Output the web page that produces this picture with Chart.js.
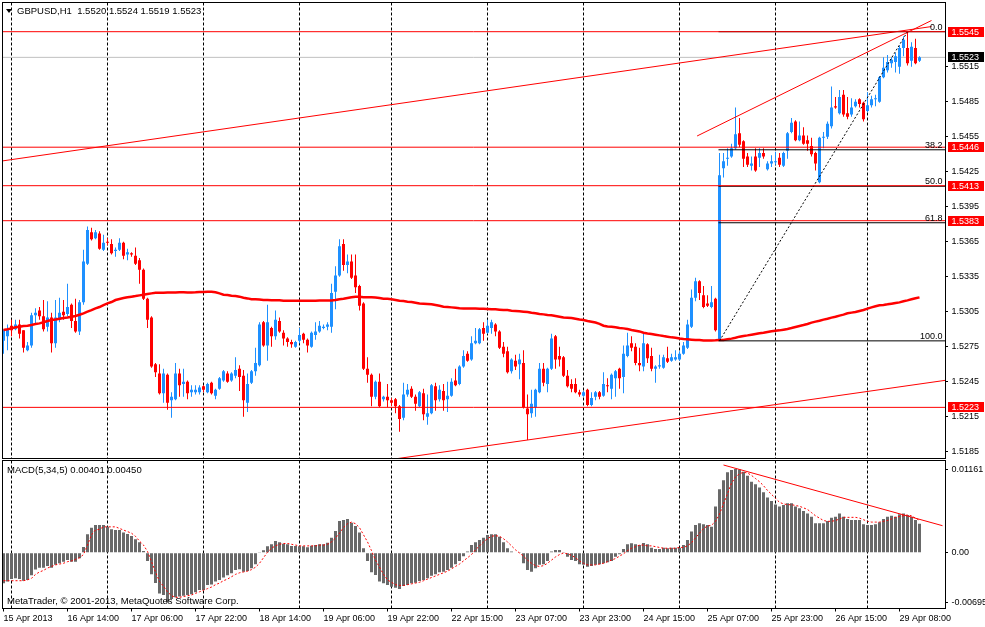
<!DOCTYPE html>
<html>
<head>
    <title>GBPUSD,H1 with MACD</title>
    <script src="https://cdn.jsdelivr.net/npm/chart.js"></script>
    <style>
        body { margin: 0; padding: 0; background: #fff; }
        #wrap { position: relative; width: 985px; height: 627px; overflow: hidden; }
        #priceChart { position: absolute; left: 0; top: 0; }
        #macdChart { position: absolute; left: 0; top: 460px; }
    </style>
</head>
<body>
    <div id="wrap">
        <canvas id="priceChart" width="985" height="460"></canvas>
        <canvas id="macdChart" width="985" height="167"></canvas>
    </div>

    <script>
        const FONT = "'Liberation Sans', Arial, sans-serif";
        const BULL = '#1E90FF';
        const BEAR = '#FF0000';

        // bar 0 = 15 Apr 22:00, one bar per hour (Friday ends at 22:00)
        const timeLabels = ['15 Apr 2013', '16 Apr 14:00', '17 Apr 06:00', '17 Apr 22:00', '18 Apr 14:00',
            '19 Apr 06:00', '19 Apr 22:00', '22 Apr 15:00', '23 Apr 07:00', '23 Apr 23:00',
            '24 Apr 15:00', '25 Apr 07:00', '25 Apr 23:00', '26 Apr 15:00', '29 Apr 08:00'];
        const labelBars = [0, 16, 32, 48, 64, 80, 96, 112, 128, 144, 160, 176, 192, 208, 224];
        const daySeparators = [2, 26, 50, 74, 97, 121, 145, 169, 193, 216];
        const priceTicks = [1.5185, 1.5215, 1.5245, 1.5275, 1.5305, 1.5335, 1.5365, 1.5395, 1.5425, 1.5455, 1.5485, 1.5515];
        const macdTicks = [0.01161, 0, -0.00695];

        const opens = [
            1.5280,1.5284,1.5293,1.5290,1.5294,1.5289,1.5272,1.5276,1.5302,1.5306,
            1.5301,1.5292,1.5300,1.5278,1.5298,1.5305,1.5303,1.5311,1.5297,1.5288,
            1.5313,1.5346,1.5373,1.5368,1.5372,1.5358,1.5365,1.5363,1.5357,1.5358,
            1.5364,1.5354,1.5355,1.5353,1.5349,1.5341,1.5316,1.5300,1.5260,1.5252,
            1.5235,1.5251,1.5229,1.5230,1.5252,1.5243,1.5245,1.5236,1.5236,1.5236,
            1.5241,1.5236,1.5244,1.5233,1.5239,1.5246,1.5252,1.5246,1.5250,1.5256,
            1.5250,1.5227,1.5244,1.5254,1.5259,1.5296,1.5276,1.5291,1.5284,1.5297,
            1.5287,1.5282,1.5279,1.5275,1.5280,1.5286,1.5281,1.5275,1.5285,1.5288,
            1.5291,1.5292,1.5292,1.5322,1.5336,1.5363,1.5345,1.5348,1.5336,1.5327,
            1.5312,1.5256,1.5251,1.5232,1.5245,1.5230,1.5232,1.5229,1.5230,1.5224,
            1.5214,1.5234,1.5239,1.5232,1.5224,1.5235,1.5215,1.5218,1.5241,1.5230,
            1.5237,1.5230,1.5233,1.5246,1.5243,1.5258,1.5269,1.5264,1.5278,1.5278,
            1.5291,1.5287,1.5291,1.5294,1.5288,1.5275,1.5271,1.5254,1.5263,1.5260,
            1.5261,1.5222,1.5218,1.5223,1.5236,1.5256,1.5243,1.5256,1.5284,1.5267,
            1.5266,1.5250,1.5243,1.5243,1.5236,1.5233,1.5238,1.5225,1.5232,1.5236,
            1.5233,1.5242,1.5239,1.5248,1.5256,1.5249,1.5267,1.5278,1.5275,1.5261,
            1.5258,1.5277,1.5267,1.5256,1.5258,1.5257,1.5265,1.5263,1.5264,1.5264,
            1.5269,1.5274,1.5292,1.5317,1.5331,1.5319,1.5312,1.5309,1.5316,1.5281,
            1.5428,1.5436,1.5438,1.5445,1.5458,1.5451,1.5438,1.5430,1.5438,1.5437,
            1.5441,1.5427,1.5432,1.5433,1.5437,1.5430,1.5443,1.5459,1.5468,1.5452,
            1.5456,1.5452,1.5447,1.5441,1.5416,1.5454,1.5455,1.5464,1.5481,1.5475,
            1.5491,1.5475,1.5474,1.5481,1.5487,1.5484,1.5477,1.5482,1.5487,1.5485,
            1.5506,1.5512,1.5518,1.5519,1.5515,1.5531,1.5531,1.5520,1.5531,1.5520
        ];
        const highs = [
            1.5290,1.5294,1.5298,1.5298,1.5298,1.5289,1.5279,1.5304,1.5308,1.5309,
            1.5315,1.5314,1.5304,1.5315,1.5317,1.5315,1.5329,1.5312,1.5316,1.5315,
            1.5358,1.5378,1.5377,1.5375,1.5374,1.5371,1.5368,1.5367,1.5360,1.5368,
            1.5365,1.5359,1.5356,1.5360,1.5351,1.5342,1.5317,1.5301,1.5261,1.5260,
            1.5256,1.5252,1.5236,1.5261,1.5256,1.5256,1.5246,1.5242,1.5242,1.5242,
            1.5242,1.5244,1.5245,1.5239,1.5249,1.5255,1.5254,1.5253,1.5266,1.5259,
            1.5255,1.5252,1.5255,1.5274,1.5296,1.5297,1.5311,1.5292,1.5306,1.5300,
            1.5289,1.5283,1.5281,1.5280,1.5291,1.5287,1.5282,1.5288,1.5296,1.5297,
            1.5294,1.5296,1.5329,1.5344,1.5367,1.5367,1.5354,1.5354,1.5354,1.5328,
            1.5313,1.5266,1.5252,1.5246,1.5252,1.5233,1.5243,1.5231,1.5231,1.5225,
            1.5244,1.5243,1.5241,1.5234,1.5237,1.5239,1.5234,1.5243,1.5244,1.5242,
            1.5243,1.5245,1.5248,1.5256,1.5259,1.5272,1.5271,1.5284,1.5291,1.5291,
            1.5296,1.5298,1.5298,1.5295,1.5289,1.5279,1.5275,1.5265,1.5268,1.5269,
            1.5272,1.5234,1.5238,1.5239,1.5261,1.5261,1.5257,1.5286,1.5285,1.5275,
            1.5267,1.5255,1.5247,1.5248,1.5238,1.5237,1.5239,1.5236,1.5237,1.5237,
            1.5253,1.5248,1.5252,1.5255,1.5257,1.5276,1.5287,1.5284,1.5278,1.5274,
            1.5286,1.5278,1.5274,1.5259,1.5268,1.5268,1.5275,1.5269,1.5272,1.5271,
            1.5279,1.5298,1.5324,1.5334,1.5332,1.5327,1.5319,1.5327,1.5317,1.5441,
            1.5441,1.5445,1.5449,1.5480,1.5471,1.5452,1.5441,1.5438,1.5445,1.5445,
            1.5445,1.5434,1.5439,1.5442,1.5441,1.5442,1.5459,1.5471,1.5469,1.5468,
            1.5463,1.5456,1.5454,1.5442,1.5455,1.5459,1.5468,1.5498,1.5489,1.5495,
            1.5495,1.5489,1.5488,1.5487,1.5488,1.5485,1.5493,1.5490,1.5491,1.5507,
            1.5523,1.5525,1.5523,1.5527,1.5533,1.5541,1.5545,1.5536,1.5539,1.5524
        ];
        const lows = [
            1.5269,1.5272,1.5284,1.5289,1.5282,1.5270,1.5271,1.5274,1.5295,1.5298,
            1.5288,1.5288,1.5270,1.5274,1.5296,1.5298,1.5301,1.5291,1.5287,1.5285,
            1.5311,1.5345,1.5366,1.5367,1.5358,1.5357,1.5362,1.5354,1.5352,1.5357,
            1.5350,1.5349,1.5352,1.5345,1.5329,1.5315,1.5291,1.5257,1.5249,1.5234,
            1.5227,1.5221,1.5214,1.5229,1.5232,1.5232,1.5230,1.5232,1.5234,1.5234,
            1.5236,1.5235,1.5234,1.5230,1.5238,1.5245,1.5244,1.5245,1.5248,1.5237,
            1.5215,1.5219,1.5243,1.5250,1.5258,1.5275,1.5263,1.5275,1.5281,1.5287,
            1.5276,1.5275,1.5274,1.5274,1.5278,1.5278,1.5270,1.5274,1.5281,1.5287,
            1.5290,1.5289,1.5287,1.5307,1.5335,1.5340,1.5338,1.5333,1.5321,1.5306,
            1.5255,1.5244,1.5224,1.5230,1.5223,1.5228,1.5223,1.5224,1.5218,1.5202,
            1.5212,1.5232,1.5231,1.5220,1.5223,1.5212,1.5208,1.5217,1.5220,1.5228,
            1.5220,1.5219,1.5232,1.5241,1.5242,1.5257,1.5262,1.5263,1.5277,1.5277,
            1.5280,1.5286,1.5286,1.5284,1.5273,1.5266,1.5252,1.5252,1.5255,1.5247,
            1.5222,1.5195,1.5214,1.5215,1.5235,1.5241,1.5236,1.5255,1.5256,1.5258,
            1.5249,1.5240,1.5236,1.5235,1.5232,1.5232,1.5224,1.5224,1.5229,1.5230,
            1.5232,1.5236,1.5230,1.5232,1.5239,1.5235,1.5266,1.5271,1.5259,1.5254,
            1.5254,1.5261,1.5254,1.5244,1.5256,1.5256,1.5261,1.5262,1.5263,1.5263,
            1.5268,1.5273,1.5291,1.5314,1.5315,1.5308,1.5309,1.5308,1.5288,1.5280,
            1.5420,1.5430,1.5437,1.5444,1.5446,1.5429,1.5429,1.5426,1.5425,1.5429,
            1.5436,1.5426,1.5429,1.5431,1.5429,1.5429,1.5436,1.5458,1.5451,1.5451,
            1.5448,1.5443,1.5438,1.5426,1.5415,1.5445,1.5453,1.5462,1.5479,1.5474,
            1.5472,1.5470,1.5472,1.5480,1.5480,1.5468,1.5476,1.5480,1.5481,1.5484,
            1.5505,1.5510,1.5514,1.5510,1.5509,1.5524,1.5516,1.5515,1.5517,1.5519
        ];
        const closes = [
            1.5289,1.5290,1.5289,1.5294,1.5286,1.5274,1.5276,1.5302,1.5304,1.5301,
            1.5290,1.5300,1.5278,1.5300,1.5304,1.5302,1.5309,1.5297,1.5288,1.5313,
            1.5348,1.5375,1.5367,1.5373,1.5359,1.5364,1.5364,1.5355,1.5358,1.5364,
            1.5353,1.5356,1.5354,1.5346,1.5341,1.5316,1.5298,1.5258,1.5253,1.5235,
            1.5252,1.5227,1.5232,1.5252,1.5242,1.5245,1.5235,1.5238,1.5238,1.5240,
            1.5238,1.5243,1.5235,1.5238,1.5248,1.5254,1.5245,1.5252,1.5255,1.5249,
            1.5229,1.5243,1.5254,1.5261,1.5294,1.5276,1.5296,1.5284,1.5298,1.5288,
            1.5282,1.5279,1.5277,1.5279,1.5285,1.5281,1.5276,1.5287,1.5288,1.5293,
            1.5292,1.5294,1.5321,1.5336,1.5361,1.5345,1.5348,1.5334,1.5326,1.5310,
            1.5256,1.5251,1.5232,1.5245,1.5224,1.5232,1.5229,1.5227,1.5224,1.5213,
            1.5234,1.5238,1.5232,1.5226,1.5236,1.5217,1.5218,1.5242,1.5229,1.5238,
            1.5229,1.5233,1.5245,1.5242,1.5258,1.5267,1.5263,1.5278,1.5280,1.5290,
            1.5286,1.5293,1.5296,1.5288,1.5274,1.5269,1.5253,1.5264,1.5258,1.5264,
            1.5223,1.5217,1.5226,1.5238,1.5256,1.5244,1.5256,1.5282,1.5264,1.5264,
            1.5250,1.5241,1.5239,1.5236,1.5234,1.5236,1.5225,1.5231,1.5236,1.5232,
            1.5243,1.5241,1.5251,1.5254,1.5248,1.5269,1.5276,1.5274,1.5261,1.5259,
            1.5278,1.5265,1.5256,1.5258,1.5259,1.5266,1.5262,1.5266,1.5266,1.5269,
            1.5276,1.5294,1.5317,1.5331,1.5321,1.5309,1.5310,1.5313,1.5289,1.5422,
            1.5434,1.5437,1.5445,1.5457,1.5448,1.5436,1.5431,1.5432,1.5426,1.5441,
            1.5438,1.5432,1.5434,1.5434,1.5431,1.5441,1.5458,1.5467,1.5452,1.5456,
            1.5449,1.5449,1.5440,1.5432,1.5454,1.5455,1.5466,1.5480,1.5480,1.5489,
            1.5474,1.5472,1.5480,1.5485,1.5483,1.5470,1.5482,1.5487,1.5488,1.5506,
            1.5514,1.5519,1.5521,1.5524,1.5531,1.5538,1.5518,1.5532,1.5518,1.5523
        ];
        const maValues = [
            1.52893,1.52899,1.52907,1.52916,1.52921,1.52927,1.52930,1.52936,1.52944,1.52950,
            1.52959,1.52970,1.52979,1.52984,1.52990,1.52996,1.53001,1.53007,1.53013,1.53024,
            1.53036,1.53050,1.53064,1.53079,1.53090,1.53107,1.53121,1.53133,1.53150,1.53159,
            1.53167,1.53173,1.53179,1.53184,1.53190,1.53195,1.53201,1.53207,1.53213,1.53213,
            1.53213,1.53214,1.53215,1.53215,1.53216,1.53216,1.53215,1.53215,1.53216,1.53218,
            1.53218,1.53221,1.53221,1.53216,1.53207,1.53196,1.53193,1.53187,1.53184,1.53179,
            1.53170,1.53164,1.53156,1.53156,1.53155,1.53150,1.53150,1.53149,1.53149,1.53148,
            1.53144,1.53144,1.53144,1.53143,1.53143,1.53143,1.53144,1.53144,1.53144,1.53145,
            1.53145,1.53145,1.53146,1.53150,1.53156,1.53161,1.53167,1.53173,1.53179,1.53179,
            1.53173,1.53173,1.53173,1.53172,1.53167,1.53161,1.53160,1.53156,1.53150,1.53144,
            1.53141,1.53136,1.53133,1.53127,1.53121,1.53119,1.53116,1.53113,1.53107,1.53101,
            1.53093,1.53090,1.53087,1.53084,1.53079,1.53078,1.53078,1.53077,1.53077,1.53076,
            1.53076,1.53073,1.53070,1.53070,1.53067,1.53064,1.53064,1.53059,1.53056,1.53053,
            1.53050,1.53047,1.53041,1.53036,1.53030,1.53027,1.53021,1.53019,1.53013,1.53007,
            1.53001,1.52999,1.52996,1.52990,1.52984,1.52979,1.52970,1.52964,1.52957,1.52946,
            1.52930,1.52924,1.52921,1.52916,1.52910,1.52907,1.52901,1.52893,1.52887,1.52881,
            1.52870,1.52864,1.52859,1.52853,1.52847,1.52841,1.52836,1.52830,1.52827,1.52821,
            1.52816,1.52813,1.52810,1.52807,1.52807,1.52804,1.52804,1.52804,1.52805,1.52807,
            1.52807,1.52813,1.52819,1.52827,1.52836,1.52842,1.52847,1.52853,1.52859,1.52865,
            1.52870,1.52876,1.52882,1.52887,1.52890,1.52896,1.52902,1.52910,1.52919,1.52928,
            1.52936,1.52945,1.52956,1.52965,1.52973,1.52982,1.52990,1.52999,1.53007,1.53016,
            1.53025,1.53036,1.53042,1.53047,1.53056,1.53065,1.53076,1.53087,1.53096,1.53105,
            1.53108,1.53113,1.53119,1.53125,1.53130,1.53139,1.53147,1.53156,1.53165,1.53173
        ];
        const macdValues = [
            -0.00425,-0.00400,-0.00367,-0.00356,-0.00367,-0.00389,-0.00378,-0.00312,-0.00235,-0.00208,
            -0.00208,-0.00184,-0.00208,-0.00169,-0.00147,-0.00125,-0.00101,-0.00125,-0.00125,-0.00078,
            0.00080,0.00256,0.00348,0.00385,0.00385,0.00385,0.00359,0.00326,0.00315,0.00315,
            0.00279,0.00260,0.00233,0.00186,0.00145,0.00023,-0.00114,-0.00301,-0.00422,-0.00565,
            -0.00587,-0.00695,-0.00642,-0.00620,-0.00609,-0.00598,-0.00587,-0.00576,-0.00551,-0.00518,
            -0.00518,-0.00448,-0.00440,-0.00400,-0.00378,-0.00345,-0.00312,-0.00287,-0.00241,-0.00231,
            -0.00264,-0.00254,-0.00217,-0.00161,0.00004,0.00033,0.00088,0.00117,0.00161,0.00145,
            0.00126,0.00117,0.00093,0.00093,0.00088,0.00088,0.00075,0.00098,0.00106,0.00117,
            0.00117,0.00139,0.00209,0.00302,0.00440,0.00455,0.00469,0.00417,0.00370,0.00282,
            0.00061,-0.00114,-0.00272,-0.00310,-0.00400,-0.00425,-0.00448,-0.00472,-0.00486,-0.00505,
            -0.00463,-0.00448,-0.00425,-0.00417,-0.00394,-0.00378,-0.00356,-0.00319,-0.00301,-0.00272,
            -0.00264,-0.00241,-0.00208,-0.00161,-0.00114,-0.00050,0.00015,0.00106,0.00145,0.00176,
            0.00209,0.00246,0.00256,0.00256,0.00223,0.00145,0.00061,0.00015,0.00005,0.00002,
            -0.00147,-0.00241,-0.00264,-0.00217,-0.00169,-0.00161,-0.00114,0.00015,0.00038,0.00038,
            0.00002,-0.00055,-0.00101,-0.00114,-0.00161,-0.00169,-0.00194,-0.00184,-0.00169,-0.00161,
            -0.00147,-0.00134,-0.00114,-0.00055,-0.00023,0.00051,0.00117,0.00130,0.00117,0.00106,
            0.00135,0.00117,0.00070,0.00051,0.00051,0.00070,0.00061,0.00070,0.00070,0.00070,
            0.00106,0.00176,0.00293,0.00385,0.00409,0.00394,0.00385,0.00361,0.00640,0.00880,
            0.01008,0.01118,0.01150,0.01161,0.01155,0.01126,0.01070,0.00986,0.00950,0.00904,
            0.00839,0.00766,0.00719,0.00671,0.00640,0.00663,0.00686,0.00686,0.00640,0.00616,
            0.00579,0.00546,0.00501,0.00409,0.00409,0.00409,0.00440,0.00487,0.00501,0.00546,
            0.00501,0.00469,0.00455,0.00455,0.00455,0.00394,0.00385,0.00385,0.00394,0.00422,
            0.00469,0.00501,0.00514,0.00501,0.00533,0.00546,0.00524,0.00501,0.00455,0.00401
        ];
        const signalValues = [
            -0.00389,-0.00389,-0.00389,-0.00389,-0.00389,-0.00389,-0.00378,-0.00356,-0.00301,-0.00268,
            -0.00246,-0.00213,-0.00191,-0.00169,-0.00158,-0.00147,-0.00125,-0.00114,-0.00092,-0.00070,
            -0.00026,0.00106,0.00249,0.00315,0.00326,0.00359,0.00359,0.00359,0.00359,0.00337,
            0.00315,0.00293,0.00271,0.00227,0.00161,0.00106,0.00018,-0.00125,-0.00268,-0.00400,
            -0.00466,-0.00543,-0.00598,-0.00620,-0.00620,-0.00609,-0.00598,-0.00587,-0.00565,-0.00543,
            -0.00521,-0.00499,-0.00477,-0.00444,-0.00422,-0.00389,-0.00367,-0.00334,-0.00301,-0.00279,
            -0.00268,-0.00257,-0.00235,-0.00202,-0.00147,-0.00070,0.00007,0.00062,0.00095,0.00117,
            0.00128,0.00128,0.00117,0.00106,0.00095,0.00095,0.00095,0.00095,0.00095,0.00106,
            0.00106,0.00117,0.00150,0.00205,0.00271,0.00348,0.00403,0.00425,0.00403,0.00348,
            0.00249,0.00150,0.00029,-0.00103,-0.00202,-0.00301,-0.00378,-0.00411,-0.00444,-0.00455,
            -0.00455,-0.00444,-0.00433,-0.00422,-0.00411,-0.00389,-0.00367,-0.00345,-0.00323,-0.00301,
            -0.00279,-0.00257,-0.00224,-0.00191,-0.00158,-0.00114,-0.00070,-0.00026,0.00040,0.00095,
            0.00150,0.00194,0.00227,0.00238,0.00227,0.00194,0.00150,0.00095,0.00040,-0.00004,
            -0.00048,-0.00103,-0.00147,-0.00180,-0.00191,-0.00180,-0.00147,-0.00103,-0.00059,-0.00026,
            -0.00004,-0.00015,-0.00037,-0.00070,-0.00114,-0.00147,-0.00169,-0.00169,-0.00169,-0.00158,
            -0.00147,-0.00125,-0.00103,-0.00081,-0.00048,-0.00015,0.00029,0.00062,0.00084,0.00106,
            0.00106,0.00095,0.00095,0.00084,0.00073,0.00062,0.00062,0.00062,0.00062,0.00073,
            0.00073,0.00095,0.00139,0.00205,0.00271,0.00337,0.00370,0.00381,0.00436,0.00535,
            0.00678,0.00821,0.00964,0.01052,0.01096,0.01118,0.01107,0.01074,0.01030,0.00986,
            0.00931,0.00865,0.00810,0.00755,0.00700,0.00678,0.00667,0.00667,0.00656,0.00645,
            0.00623,0.00601,0.00557,0.00513,0.00480,0.00447,0.00436,0.00436,0.00447,0.00469,
            0.00491,0.00491,0.00491,0.00491,0.00480,0.00458,0.00436,0.00425,0.00425,0.00425,
            0.00436,0.00447,0.00469,0.00491,0.00502,0.00513,0.00524,0.00513,0.00480,0.00450
        ];

        // chart objects: [bar, price] anchor pairs
        const objectLevels = [1.5545, 1.5446, 1.5413, 1.5383, 1.5223];
        const fibLevels = [0, 38.2, 50, 61.8, 100];
        const fibFrom = [179, 1.5280];
        const fibTo = [226, 1.5545];
        const channelTop = [[-10, 1.54294], [232, 1.55494]];
        const channelBottom = [[95, 1.51774], [240, 1.52484]];
        const swingLine = [[173.4, 1.54556], [232, 1.55546]];
        const macdTrend = [[180, 0.01218], [234.75, 0.00375]];

        // visible window
        const X_MIN = -0.375, X_MAX = 235.375;
        const PRICE_MIN = 1.517917, PRICE_MAX = 1.557002;
        const MACD_MIN = -0.00775, MACD_MAX = 0.012806;

        const last = closes.length - 1;
        const bid = closes[last];
        const candleColors = closes.map((c, i) => c >= opens[i] ? BULL : BEAR);
        const fibPrice = level => fibTo[1] - (fibTo[1] - fibFrom[1]) * level / 100;
        const seg = pts => pts.map(([x, y]) => ({ x, y }));
        const series = values => values.map((y, x) => ({ x, y }));

        function lineSet(data, color, extra) {
            return Object.assign({
                type: 'line', data: data, borderColor: color, borderWidth: 1,
                pointRadius: 0, fill: false, tension: 0, order: 0
            }, extra || {});
        }

        // MT4 keeps the plot flush with the frame: drop the label padding chart.js adds
        function noLabelPadding(scale) {
            scale.paddingTop = 0;
            scale.paddingBottom = 0;
            scale.paddingLeft = 0;
            scale.paddingRight = 0;
        }

        const tickFont = { family: FONT, size: 9 };

        // dashed day separators and the black panel frame
        const panelFrame = {
            id: 'panelFrame',
            beforeDatasetsDraw(chart) {
                const { ctx, chartArea: a, scales } = chart;
                ctx.save();
                ctx.strokeStyle = '#000';
                ctx.lineWidth = 1;
                ctx.setLineDash([3, 2]);
                daySeparators.forEach(bar => {
                    const px = Math.floor(scales.x.getPixelForValue(bar)) + 0.5;
                    ctx.beginPath();
                    ctx.moveTo(px, a.top);
                    ctx.lineTo(px, a.bottom);
                    ctx.stroke();
                });
                ctx.restore();
            },
            afterDraw(chart) {
                const { ctx, chartArea: a } = chart;
                const l = Math.floor(a.left) + 0.5, r = Math.floor(a.right) + 0.5;
                const t = Math.floor(a.top) + 0.5, b = Math.floor(a.bottom) + 0.5;
                ctx.save();
                ctx.strokeStyle = '#000';
                ctx.lineWidth = 1;
                ctx.strokeRect(l, t, r - l, b - t);
                ctx.restore();
            }
        };

        const priceOverlay = {
            id: 'priceOverlay',
            afterDraw(chart) {
                const { ctx, chartArea: a, scales: { y } } = chart;
                ctx.save();
                ctx.font = '9px ' + FONT;

                // fibo captions
                ctx.fillStyle = '#000';
                ctx.textAlign = 'right';
                ctx.textBaseline = 'alphabetic';
                fibLevels.forEach(l => {
                    ctx.fillText(l.toFixed(1), a.right - 2.5, y.getPixelForValue(fibPrice(l)) - 2);
                });

                // price tags on the axis
                const tag = (price, bg) => {
                    const py = Math.round(y.getPixelForValue(price));
                    ctx.fillStyle = bg;
                    ctx.fillRect(a.right + 3, py - 5, chart.width - a.right - 4, 10);
                    ctx.fillStyle = '#fff';
                    ctx.textAlign = 'left';
                    ctx.textBaseline = 'middle';
                    ctx.fillText(price.toFixed(4), a.right + 6.5, py + 0.5);
                };
                objectLevels.forEach(p => tag(p, '#FF0000'));
                tag(bid, '#000');

                // header
                ctx.fillStyle = '#000';
                ctx.beginPath();
                ctx.moveTo(6, 9);
                ctx.lineTo(12, 9);
                ctx.lineTo(9, 13);
                ctx.closePath();
                ctx.fill();
                ctx.font = '9.5px ' + FONT;
                ctx.textAlign = 'left';
                ctx.textBaseline = 'middle';
                const head = 'GBPUSD,H1  ' + [opens[last], highs[last], lows[last], closes[last]]
                    .map(v => v.toFixed(4)).join(' ');
                ctx.fillText(head, 17, 11.5);
                ctx.restore();
            }
        };

        const macdOverlay = {
            id: 'macdOverlay',
            afterDraw(chart) {
                const { ctx, chartArea: a } = chart;
                ctx.save();
                ctx.font = '9.5px ' + FONT;
                ctx.fillStyle = '#000';
                ctx.textAlign = 'left';
                ctx.textBaseline = 'middle';
                ctx.fillText('MACD(5,34,5) ' + macdValues[last].toFixed(5) + ' ' + signalValues[last].toFixed(5),
                    a.left + 5, a.top + 9.5);
                ctx.fillText('MetaTrader, \u00A9 2001-2013, MetaQuotes Software Corp.', a.left + 5, a.bottom - 7.5);
                ctx.restore();
            }
        };

        new Chart(document.getElementById('priceChart'), {
            type: 'bar',
            data: {
                datasets: [
                    ...objectLevels.map(p => lineSet(seg([[X_MIN - 5, p], [X_MAX + 5, p]]), '#FF0000')),
                    ...fibLevels.map(l => lineSet(seg([[fibFrom[0] - 0.25, fibPrice(l)], [X_MAX + 5, fibPrice(l)]]), '#000000')),
                    lineSet(seg([fibFrom, fibTo]), '#000000', { borderDash: [2, 2] }),
                    lineSet(seg(channelTop), '#FF0000'),
                    lineSet(seg(channelBottom), '#FF0000'),
                    lineSet(seg(swingLine), '#FF0000'),
                    lineSet(series(maValues), '#FF0000', { borderWidth: 2.5, order: 1 }),
                    {
                        type: 'bar',
                        data: opens.map((o, i) => ({ x: i, y: [o, closes[i]] })),
                        backgroundColor: candleColors,
                        borderWidth: 0,
                        barThickness: 3,
                        grouped: false,
                        inflateAmount: 0,
                        minBarLength: 1,
                        order: 2
                    },
                    {
                        type: 'bar',
                        data: lows.map((l, i) => ({ x: i, y: [l, highs[i]] })),
                        backgroundColor: candleColors,
                        borderWidth: 0,
                        barThickness: 1,
                        grouped: false,
                        inflateAmount: 0,
                        order: 3
                    },
                    lineSet(seg([[X_MIN - 5, bid], [X_MAX + 5, bid]]), '#C0C0C0', { order: 4 })
                ]
            },
            options: {
                responsive: false,
                animation: false,
                events: [],
                layout: { padding: { left: 2, top: 2.5, right: 0, bottom: 1.5 } },
                plugins: { legend: { display: false }, tooltip: { enabled: false } },
                scales: {
                    x: { type: 'linear', display: false, min: X_MIN, max: X_MAX, offset: false },
                    y: {
                        type: 'linear',
                        position: 'right',
                        min: PRICE_MIN,
                        max: PRICE_MAX,
                        afterFit(scale) { scale.width = 40; noLabelPadding(scale); },
                        afterBuildTicks(scale) { scale.ticks = priceTicks.map(value => ({ value })); },
                        ticks: { autoSkip: false, padding: 3.5, color: '#000', font: tickFont, callback: v => v.toFixed(4) },
                        grid: { drawOnChartArea: false, tickLength: 3, color: '#000' },
                        border: { display: false }
                    }
                }
            },
            plugins: [panelFrame, priceOverlay]
        });

        new Chart(document.getElementById('macdChart'), {
            type: 'bar',
            data: {
                datasets: [
                    lineSet(seg(macdTrend), '#FF0000'),
                    lineSet(series(signalValues), '#FF0000', { borderDash: [2, 2], order: 1 }),
                    {
                        type: 'bar',
                        data: series(macdValues),
                        backgroundColor: '#696969',
                        borderWidth: 0,
                        barThickness: 3,
                        grouped: false,
                        inflateAmount: 0,
                        order: 2
                    }
                ]
            },
            options: {
                responsive: false,
                animation: false,
                events: [],
                layout: { padding: { left: 2, top: 0.5, right: 0, bottom: 0 } },
                plugins: { legend: { display: false }, tooltip: { enabled: false } },
                scales: {
                    x: {
                        type: 'linear',
                        min: X_MIN,
                        max: X_MAX,
                        offset: false,
                        afterFit(scale) { scale.height = 18.5; noLabelPadding(scale); },
                        afterBuildTicks(scale) { scale.ticks = labelBars.map(value => ({ value })); },
                        ticks: {
                            autoSkip: false, maxRotation: 0, minRotation: 0, align: 'start', padding: 1.5,
                            color: '#000', font: tickFont, callback: (v, i) => timeLabels[i]
                        },
                        grid: { drawOnChartArea: false, tickLength: 3, color: '#000', offset: false },
                        border: { display: false }
                    },
                    y: {
                        type: 'linear',
                        position: 'right',
                        min: MACD_MIN,
                        max: MACD_MAX,
                        afterFit(scale) { scale.width = 40; noLabelPadding(scale); },
                        afterBuildTicks(scale) { scale.ticks = macdTicks.map(value => ({ value })); },
                        ticks: { autoSkip: false, padding: 3.5, color: '#000', font: tickFont, callback: v => v === 0 ? '0.00' : v.toFixed(5) },
                        grid: { drawOnChartArea: false, tickLength: 3, color: '#000' },
                        border: { display: false }
                    }
                }
            },
            plugins: [panelFrame, macdOverlay]
        });
    </script>
</body>
</html>
